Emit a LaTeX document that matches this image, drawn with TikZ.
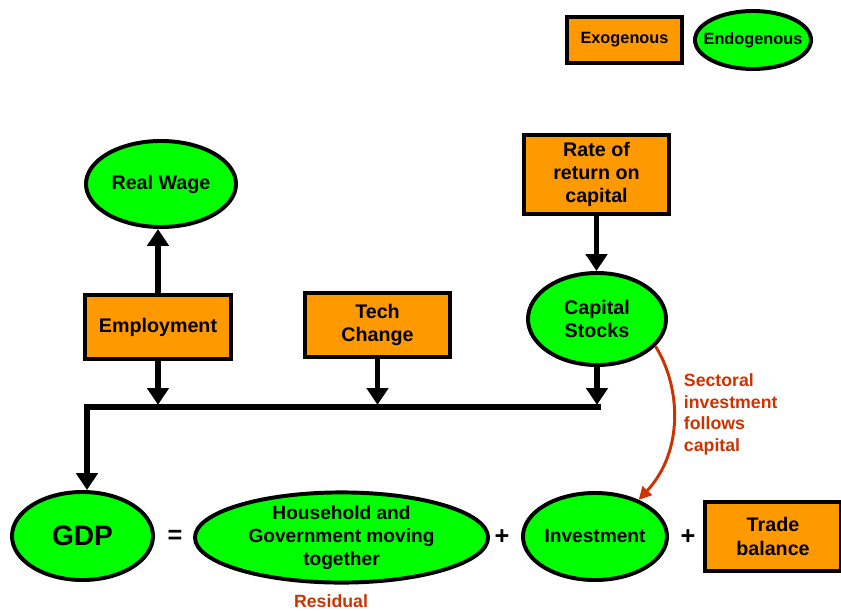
\documentclass[tikz,border=0pt]{standalone}
\usepackage{fontspec}
\setmainfont{Liberation Sans}
\usepackage{tikz}
\usetikzlibrary{arrows.meta,shapes,positioning}
\definecolor{exoorange}{RGB}{255,153,0}
\definecolor{endogreen}{RGB}{0,255,0}
\definecolor{notered}{RGB}{204,51,0}
\tikzstyle{exo} = [rectangle, draw=black, line width=2.8pt, fill=exoorange, align=center, inner sep=0pt, font=\bfseries\fontsize{14}{16.5}\selectfont]
\tikzstyle{endo} = [ellipse, draw=black, line width=2.8pt, fill=endogreen, align=center, inner sep=0pt, font=\bfseries\fontsize{14}{16.5}\selectfont]
\tikzstyle{legend} = [font=\bfseries\fontsize{11.6}{14}\selectfont]
\tikzstyle{arrow} = [line width=3.8pt, -{Triangle[width=15pt,length=12pt]}]
\tikzstyle{redarrow} = [line width=2.1pt, color=notered, -{Triangle[width=9pt,length=9pt]}]
\tikzstyle{note} = [text=notered, align=left, font=\bfseries\fontsize{12.6}{15.4}\selectfont]
\tikzstyle{sign} = [font=\bfseries\fontsize{18}{20}\selectfont]

\begin{document}
\begin{tikzpicture}[x=0.025cm, y=-0.025cm]
    \useasboundingbox (0,0) rectangle (841,611);

    % legend
    \node[exo, legend, minimum width=2.875cm, minimum height=1.15cm] (exokey) at (624.5,40) {Exogenous};
    \node[endo, legend, inner xsep=-6pt, minimum width=2.9cm, minimum height=1.45cm] (endokey) at (753,40) {Endogenous};

    % upper blocks
    \node[endo, minimum width=3.75cm, minimum height=2.15cm] (wage) at (161,184) {Real Wage};
    \node[exo, minimum width=3.65cm, minimum height=1.6cm] (emp) at (158,327) {Employment};
    \node[exo, minimum width=3.625cm, minimum height=1.6cm] (tech) at (377.5,325) {Tech\\Change};
    \node[exo, minimum width=3.625cm, minimum height=1.975cm] (rate) at (596.5,174.5) {Rate of\\return on\\capital};
    \node[endo, minimum width=3.45cm, minimum height=2.3cm] (cap) at (597,319) {Capital\\Stocks};

    % bottom row
    \node[endo, minimum width=3.525cm, minimum height=2.2cm, font=\bfseries\fontsize{20}{22}\selectfont] (gdp) at (82.5,536) {GDP};
    \node[sign] (eq) at (175,537) {=};
    \node[endo, minimum width=7.325cm, minimum height=2.125cm, font=\bfseries\fontsize{13.6}{16.3}\selectfont] (hh) at (341.5,537.5) {Household and\\Government moving\\together};
    \node[sign] (plusa) at (502,537) {+};
    \node[endo, minimum width=3.6cm, minimum height=2.175cm, font=\bfseries\fontsize{13.6}{16.3}\selectfont] (inv) at (595,536.5) {Investment};
    \node[sign] (plusb) at (688,537) {+};
    \node[exo, minimum width=3.4cm, minimum height=1.725cm] (trade) at (773,536.5) {Trade\\balance};

    \node[note] (resid) at (331,601) {Residual};
    \node[note, anchor=west] (follow) at (679,414.5) {Sectoral\\investment\\follows\\capital};

    % connectors
    \coordinate (busL) at (87,407);
    \coordinate (busR) at (601,407);
    \draw[arrow] (emp.north) -- (emp.north |- wage.south);
    \draw[arrow] (rate.south) -- (rate.south |- cap.north);
    \draw[arrow, shorten >=1.5pt] (emp.south) -- (emp.south |- busL);
    \draw[arrow, shorten >=1.5pt] (tech.south) -- (tech.south |- busL);
    \draw[arrow, shorten >=1.5pt] (cap.south) -- (cap.south |- busL);
    \draw[arrow] (busR) -- (busL) -- (busL |- gdp.north);
    \draw[redarrow] (cap.-25) .. controls (680,385) and (685,450) .. (inv.40);
\end{tikzpicture}
\end{document}
